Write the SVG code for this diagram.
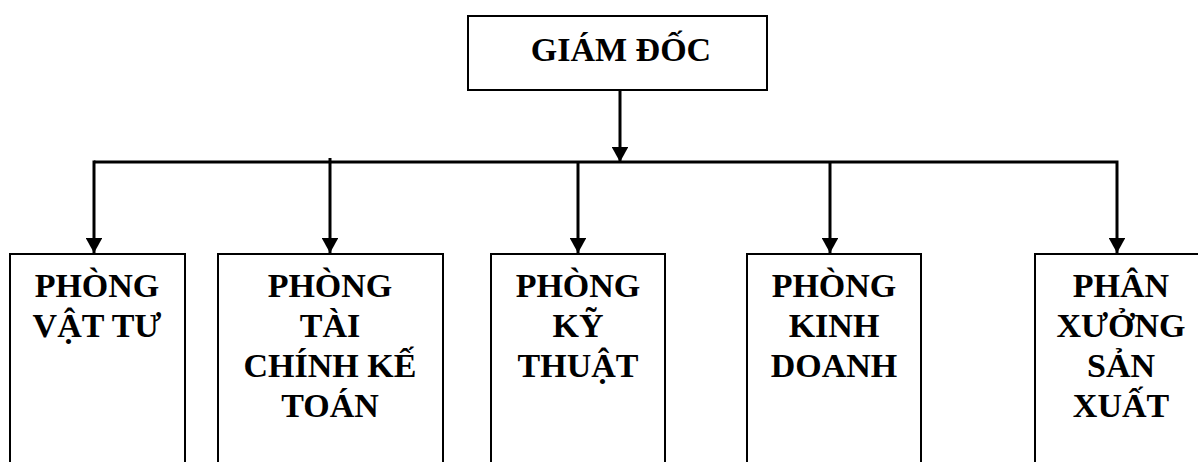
<svg xmlns="http://www.w3.org/2000/svg" width="1198" height="462" viewBox="0 0 1198 462">
<style>
.box{fill:#fff;stroke:#000;stroke-width:2}
.t{font-family:"Liberation Serif","Times New Roman",serif;font-weight:bold;font-size:34px;fill:#000;text-anchor:middle}
.c{fill:none;stroke:#000;stroke-width:3}
</style>
<defs>
<marker id="ah" viewBox="0 0 10 11" refX="10" refY="5.5" markerWidth="5" markerHeight="5.5" markerUnits="strokeWidth" orient="auto">
<path d="M0,0 L10,5.5 L0,11 z" fill="#000"/>
</marker>
</defs>
<rect width="1198" height="462" fill="#fff"/>
<g id="connectors">
<line class="c" x1="620" y1="90" x2="620" y2="162" marker-end="url(#ah)"/>
<polyline class="c" points="94,162 1117,162 1117,253" marker-end="url(#ah)"/>
<line class="c" x1="94" y1="160.5" x2="94" y2="253" marker-end="url(#ah)"/>
<line class="c" x1="330" y1="158" x2="330" y2="253" marker-end="url(#ah)"/>
<line class="c" x1="578" y1="162" x2="578" y2="253" marker-end="url(#ah)"/>
<line class="c" x1="830" y1="162" x2="830" y2="253" marker-end="url(#ah)"/>
</g>
<g id="giam-doc">
<rect class="box" x="468" y="16" width="299" height="74"/>
<text class="t" x="621" y="61">GIÁM ĐỐC</text>
</g>
<g id="phong-vat-tu">
<rect class="box" x="10" y="254" width="175" height="220"/>
<text class="t" x="97" y="297">PHÒNG</text>
<text class="t" x="97" y="337">VẬT TƯ</text>
</g>
<g id="phong-tai-chinh">
<rect class="box" x="218" y="254" width="225" height="220"/>
<text class="t" x="330" y="297">PHÒNG</text>
<text class="t" x="330" y="337">TÀI</text>
<text class="t" x="330" y="377">CHÍNH KẾ</text>
<text class="t" x="330" y="417">TOÁN</text>
</g>
<g id="phong-ky-thuat">
<rect class="box" x="491" y="254" width="174" height="220"/>
<text class="t" x="578" y="297">PHÒNG</text>
<text class="t" x="578" y="337">KỸ</text>
<text class="t" x="578" y="377">THUẬT</text>
</g>
<g id="phong-kinh-doanh">
<rect class="box" x="747" y="254" width="174" height="220"/>
<text class="t" x="834" y="297">PHÒNG</text>
<text class="t" x="834" y="337">KINH</text>
<text class="t" x="834" y="377">DOANH</text>
</g>
<g id="phan-xuong">
<rect class="box" x="1035" y="254" width="180" height="220"/>
<text class="t" x="1121" y="297">PHÂN</text>
<text class="t" x="1121" y="337">XƯỞNG</text>
<text class="t" x="1121" y="377">SẢN</text>
<text class="t" x="1121" y="417">XUẤT</text>
</g>
</svg>
